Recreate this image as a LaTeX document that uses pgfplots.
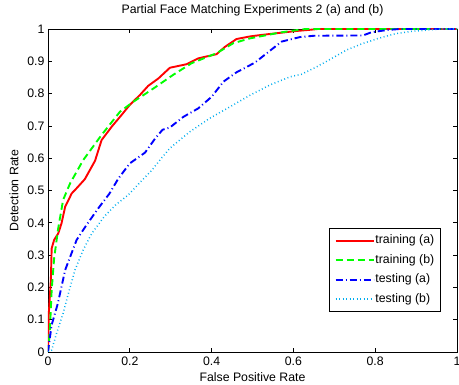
\documentclass[border=0pt]{standalone}
\usepackage{pgfplots}
\pgfplotsset{compat=1.18}
\usepackage{fontspec}
\setmainfont{Liberation Sans}
\begin{document}
\begin{tikzpicture}
\begin{axis}[
  scale only axis, width=409bp, height=323bp,
  xmin=0, xmax=1, ymin=0, ymax=1,
  xtick={0,0.2,0.4,0.6,0.8,1},
  ytick={0,0.1,0.2,0.3,0.4,0.5,0.6,0.7,0.8,0.9,1},
  xticklabels={0,0.2,0.4,0.6,0.8,1},
  yticklabels={0,0.1,0.2,0.3,0.4,0.5,0.6,0.7,0.8,0.9,1},
  tick align=inside, xtick pos=both, ytick pos=both,
  major tick length=4bp,
  axis line style={line width=0.8bp, black},
  every tick/.style={black, line width=0.6bp},
  font=\fontsize{12.3bp}{14bp}\selectfont,
  ticklabel style={font=\fontsize{12.3bp}{14bp}\selectfont},
  /pgf/number format/assume math mode=true,
  xticklabel style={anchor=base, yshift=-13bp},
  title={Partial Face Matching Experiments 2 (a) and (b)},
  title style={at={(axis description cs:0.5,1.031)}, anchor=base},
  xlabel={False Positive Rate},
  xlabel style={at={(axis description cs:0.5,-0.092)}, anchor=base},
  ylabel={Detection Rate},
  ylabel style={at={(axis description cs:-0.0726,0.5)}, anchor=base},
  legend style={at={(rel axis cs:0.96,0.125)}, anchor=south east,
    draw=black, line width=0.8bp, inner sep=5bp, row sep=5.5bp,
    nodes={inner sep=1bp, text height=9bp, text depth=3bp},
    font=\fontsize{12.3bp}{14bp}\selectfont},
  legend cell align=left,
  legend image code/.code={\draw[#1] (0bp,0bp) -- (38bp,0bp);},
]
\addplot[red, line width=1.9bp] coordinates {
(0,0) (0.002,0.12) (0.007,0.223) (0.009,0.321) (0.015,0.347) (0.025,0.367) (0.033,0.398) (0.042,0.450) (0.058,0.491) (0.070,0.507) (0.090,0.535) (0.115,0.592) (0.131,0.656) (0.156,0.698) (0.176,0.728) (0.200,0.765) (0.225,0.796) (0.245,0.824) (0.270,0.847) (0.298,0.880) (0.339,0.891) (0.367,0.909) (0.412,0.922) (0.433,0.945) (0.461,0.969) (0.494,0.977) (0.518,0.981) (0.608,0.994) (0.636,0.997) (0.66,1) (1,1)
};
\addlegendentry{training (a)}
\addplot[green, line width=1.9bp, dash pattern=on 7bp off 4bp] coordinates {
(0,0) (0.002,0.028) (0.005,0.078) (0.009,0.192) (0.015,0.29) (0.025,0.383) (0.037,0.471) (0.054,0.522) (0.086,0.594) (0.131,0.672) (0.176,0.744) (0.209,0.775) (0.258,0.816) (0.306,0.858) (0.351,0.894) (0.412,0.925) (0.453,0.956) (0.494,0.971) (0.567,0.989) (0.611,0.997) (0.63,1) (1,1)
};
\addlegendentry{training (b)}
\addplot[blue, line width=1.9bp, dash pattern=on 7bp off 3bp on 1bp off 3bp] coordinates {
(0,0) (0.002,0.02) (0.009,0.084) (0.024,0.150) (0.042,0.254) (0.070,0.347) (0.094,0.393) (0.123,0.445) (0.150,0.490) (0.172,0.537) (0.200,0.584) (0.237,0.617) (0.262,0.661) (0.280,0.688) (0.298,0.695) (0.331,0.728) (0.367,0.754) (0.400,0.790) (0.429,0.837) (0.461,0.866) (0.506,0.896) (0.535,0.925) (0.571,0.961) (0.616,0.975) (0.65,0.979) (0.77,0.980) (0.791,0.99) (0.83,0.997) (0.86,1) (1,1)
};
\addlegendentry{testing (a)}
\addplot[cyan, line width=1.5bp, dash pattern=on 0.9bp off 2.6bp] coordinates {
(0,0) (0.009,0.006) (0.021,0.058) (0.037,0.12) (0.050,0.182) (0.066,0.254) (0.086,0.316) (0.107,0.367) (0.138,0.420) (0.165,0.455) (0.196,0.486) (0.225,0.525) (0.254,0.563) (0.276,0.598) (0.298,0.631) (0.347,0.682) (0.396,0.724) (0.445,0.759) (0.494,0.795) (0.543,0.827) (0.592,0.852) (0.62,0.860) (0.657,0.883) (0.694,0.909) (0.730,0.935) (0.767,0.954) (0.808,0.971) (0.848,0.985) (0.885,0.992) (0.94,0.998) (0.96,1) (1,1)
};
\addlegendentry{testing (b)}
\end{axis}
\pgfresetboundingbox
\useasboundingbox (-48bp,-33bp) rectangle (411bp,352bp);
\end{tikzpicture}
\end{document}
